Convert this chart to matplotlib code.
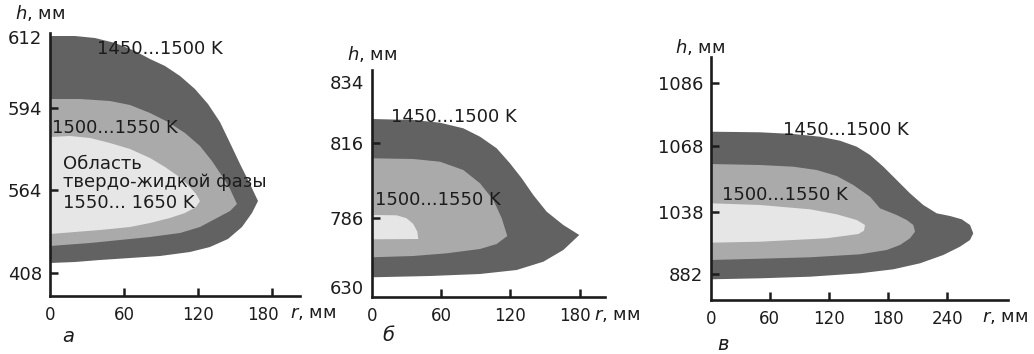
import matplotlib
matplotlib.use("Agg")
import matplotlib.pyplot as plt
from matplotlib.transforms import offset_copy

plt.rcParams["font.family"] = ["DejaVu Sans"]
plt.rcParams["mathtext.fontset"] = "dejavusans"

# ---------------- data ----------------
# panel а : r (mm) and h (axis position units) of zone outlines
a_outer_r = [0, 20.3, 36.5, 52.8, 69.0, 81.2, 93.4, 105.6, 117.7, 128.3, 138.0, 146.2, 154.3, 162.4, 168.9,
             164.0, 155.9, 144.5, 129.9, 113.7, 89.3, 65.0, 40.6, 20.3, 0]
a_outer_h = [260, 260, 258, 253, 245, 237, 230, 220, 207, 192, 174, 153, 132, 112, 95,
             83, 69, 57, 49, 44, 40, 38, 36, 34, 33]
a_mid_r = [0, 24.4, 48.7, 65.0, 81.2, 95.8, 109.6, 121.8, 131.5, 139.7, 146.2, 151.8,
           146.2, 134.0, 121.8, 105.6, 81.2, 56.8, 32.5, 0]
a_mid_h = [197, 197, 195, 191, 183, 174, 163, 150, 135, 120, 107, 92,
           85, 77, 69, 63, 59, 56, 53, 50]
a_in_r = [0, 16.2, 32.5, 48.7, 65.0, 81.2, 93.4, 103.9, 112.1, 118.6, 121.8,
          118.6, 109.6, 97.4, 81.2, 65.0, 40.6, 20.3, 0]
a_in_h = [159, 160, 158, 153, 147, 138, 129, 120, 111, 102, 95,
          89, 83, 78, 73, 69, 66, 64, 62]
a_xticks = [0, 60, 120, 180]
a_ytick_pos = [259, 188, 106, 23]
a_ytick_lab = ["612", "594", "564", "408"]

# panel б
b_outer_r = [0, 36.0, 59.1, 79.3, 93.8, 108.2, 119.7, 129.9, 139.9, 151.5, 165.9, 179.7,
             165.9, 148.6, 125.5, 93.8, 50.5, 0]
b_outer_h = [177.7, 176.7, 174.0, 168.4, 160.0, 148.4, 133.4, 118.4, 101.7, 85.0, 71.7, 61.7,
             46.7, 35.0, 26.7, 22.7, 20.7, 19.4]
b_mid_r = [0, 36.0, 59.1, 79.3, 93.8, 105.3, 112.6, 117.4,
           108.2, 93.8, 64.9, 36.0, 0]
b_mid_h = [138.4, 137.7, 135.0, 126.7, 113.4, 96.7, 78.4, 60.7,
           52.7, 47.7, 43.4, 40.7, 39.4]
b_in_r = [0, 21.6, 30.3, 36.0, 39.5, 40.3, 0]
b_in_h = [81.7, 81.4, 78.4, 72.7, 65.0, 57.7, 57.4]
b_xticks = [0, 60, 120, 180]
b_ytick_pos = [215, 153.7, 78.7, 10]
b_ytick_lab = ["834", "816", "786", "630"]

# panel в
c_outer_r = [0, 50.0, 83.8, 110.9, 131.1, 148.1, 161.6, 175.1, 188.6, 202.1, 215.6, 229.2, 242.7,
             254.6, 263.0, 266.3,
             263.0, 252.8, 235.9, 212.3, 185.2, 151.4, 100.7, 50.0, 0]
c_outer_h = [168.3, 167.7, 166.0, 163.3, 159.3, 153.3, 145.0, 133.3, 120.0, 106.7, 95.0, 86.7, 84.0,
             80.7, 75.0, 66.7,
             60.0, 53.3, 45.0, 36.7, 30.7, 26.7, 23.3, 21.7, 20.7]
c_mid_r = [0, 50.0, 83.8, 107.5, 127.8, 144.6, 161.6, 171.7, 188.6, 198.8, 205.5, 207.2,
           202.1, 192.0, 178.5, 151.4, 100.7, 50.0, 0]
c_mid_h = [136, 135, 133.3, 130, 124, 115, 103.3, 91.7, 85, 80, 75, 68.3,
           61.7, 55, 50, 45.7, 42.7, 41.3, 40]
c_in_r = [0, 50.0, 100.7, 127.8, 148.1, 156.5, 155.5, 149.7, 117.6, 50.0, 0]
c_in_h = [96.7, 95, 90.7, 85.7, 80, 75, 69.3, 66, 61.7, 58.3, 57.3]
c_xticks = [0, 60, 120, 180, 240]
c_ytick_pos = [217.3, 154, 88.3, 26]
c_ytick_lab = ["1086", "1068", "1038", "882"]

zone_labels = ["1450...1500 K", "1500...1550 K"]
core_label = ["Область", "твердо-жидкой фазы", "1550... 1650 K"]
panel_letters = ["а", "б", "в"]

# ---------------- style ----------------
W, H = 1034, 354
FS = 13
C_DARK, C_MID, C_LIGHT = "#626262", "#aaaaaa", "#e6e6e6"
C_TXT = "#1c1c1c"

fig = plt.figure(figsize=(W / 100, H / 100), dpi=100)


def make_ax(left, bottom, right, top, scale):
    ax = fig.add_axes([left / W, (H - bottom) / H, (right - left) / W, (bottom - top) / H])
    ax.set_xlim(0, (right - left) / scale)
    ax.set_ylim(0, bottom - top)
    for s in ("top", "right"):
        ax.spines[s].set_visible(False)
    for s in ("left", "bottom"):
        ax.spines[s].set_linewidth(1.9)
        ax.spines[s].set_color(C_TXT)
        ax.spines[s].set_capstyle("projecting")
    ax.tick_params(direction="in", length=6, width=1.8, color=C_TXT,
                   labelsize=FS, labelcolor=C_TXT)
    ax.tick_params(axis="x", pad=7.5, labelsize=FS - 1)
    ax.tick_params(axis="y", pad=5.5)
    ax.set_facecolor("none")
    return ax


def fill_zones(ax, outer, mid, inner):
    ax.fill(outer[0], outer[1], color=C_DARK, lw=0)
    ax.fill(mid[0], mid[1], color=C_MID, lw=0)
    ax.fill(inner[0], inner[1], color=C_LIGHT, lw=0)


def decorate(ax, xticks, ypos, ylab, hide_y, h_off, r_off, let_off, letter, last_shift):
    ax.set_xticks(xticks)
    ax.set_xticklabels([str(t) for t in xticks])
    ax.set_yticks(ypos)
    ax.set_yticklabels(ylab)
    xt = ax.xaxis.get_major_ticks()
    xt[0].tick1line.set_visible(False)
    if last_shift:
        lab = xt[-1].label1
        lab.set_transform(offset_copy(lab.get_transform(), fig=fig, x=last_shift, y=0, units="dots"))
    for i in hide_y:
        ax.yaxis.get_major_ticks()[i].tick1line.set_visible(False)
    ax.annotate("$h$, мм", xy=(0, 1), xycoords="axes fraction", xytext=h_off,
                textcoords="offset pixels", ha="left", va="baseline", fontsize=FS, color=C_TXT)
    ax.annotate("$r$, мм", xy=(1, 0), xycoords="axes fraction", xytext=r_off,
                textcoords="offset pixels", ha="left", va="baseline", fontsize=FS, color=C_TXT)
    ax.annotate(letter, xy=(0, 0), xycoords="axes fraction", xytext=let_off,
                textcoords="offset pixels", ha="center", va="center", fontsize=FS + 1,
                style="italic", color=C_TXT)


# panel а
ax_a = make_ax(50, 296, 300, 33, 1.2315)
fill_zones(ax_a, (a_outer_r, a_outer_h), (a_mid_r, a_mid_h), (a_in_r, a_in_h))
decorate(ax_a, a_xticks, a_ytick_pos, a_ytick_lab, [0], (-35, 14), (-10, -22), (18, -41),
         panel_letters[0], -9)
ax_a.text(38, 242, zone_labels[0], fontsize=FS, color=C_TXT, va="baseline")
ax_a.text(2, 163, zone_labels[1], fontsize=FS, color=C_TXT, va="baseline")
for txt, hb in zip(core_label, [127, 109, 88]):
    ax_a.text(10.5, hb, txt, fontsize=FS, color=C_TXT, va="baseline")

# panel б
ax_b = make_ax(371.7, 296.7, 605, 70, 1.155)
fill_zones(ax_b, (b_outer_r, b_outer_h), (b_mid_r, b_mid_h), (b_in_r, b_in_h))
decorate(ax_b, b_xticks, b_ytick_pos, b_ytick_lab, [0, 3], (-25, 10), (-11, -23), (17, -39),
         panel_letters[1], -5)
ax_b.text(17, 175, zone_labels[0], fontsize=FS, color=C_TXT, va="baseline")
ax_b.text(3, 92, zone_labels[1], fontsize=FS, color=C_TXT, va="baseline")

# panel в
ax_c = make_ax(710.7, 300, 1008, 56.7, 0.986)
fill_zones(ax_c, (c_outer_r, c_outer_h), (c_mid_r, c_mid_h), (c_in_r, c_in_h))
decorate(ax_c, c_xticks, c_ytick_pos, c_ytick_lab, [], (-36, 4), (-26, -22), (12, -44),
         panel_letters[2], 0)
ax_c.text(73.6, 165, zone_labels[0], fontsize=FS, color=C_TXT, va="baseline")
ax_c.text(11, 100, zone_labels[1], fontsize=FS, color=C_TXT, va="baseline")

fig.savefig("out.png", dpi=100)
